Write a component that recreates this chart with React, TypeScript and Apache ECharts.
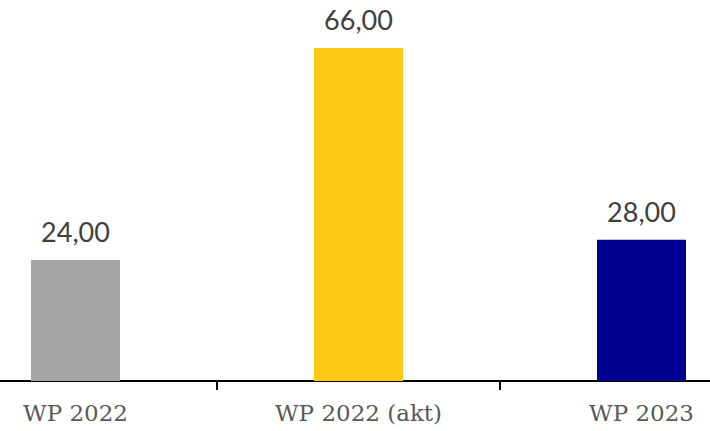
import React, { useEffect, useRef } from "react";
import * as echarts from "echarts";

const categories = ["WP 2022", "WP 2022 (akt)", "WP 2023"];
const values = [24, 66, 28];
const colors = ["#A5A5A5", "#FFC916", "#000090"];

export default function App() {
  const ref = useRef<HTMLDivElement>(null);
  useEffect(() => {
    const chart = echarts.init(ref.current!, null, { renderer: "svg" });
    chart.setOption({
      animation: false,
      grid: { left: 0, right: 0, top: 0, bottom: 50, containLabel: false },
      xAxis: {
        type: "category",
        data: categories,
        axisLine: { lineStyle: { color: "#000", width: 2 } },
        axisTick: { show: true, length: 9, lineStyle: { color: "#000", width: 2 } },
        axisLabel: {
          color: "#595959",
          fontFamily: "DejaVu Serif",
          fontSize: 23,
          margin: 20,
        },
      },
      yAxis: {
        type: "value",
        min: 0,
        max: 75.5,
        show: false,
        splitLine: { show: false },
      },
      series: [
        {
          type: "bar",
          barWidth: 89,
          data: values.map((v, i) => ({ value: v, itemStyle: { color: colors[i] } })),
          label: {
            show: true,
            position: "top",
            distance: 15,
            color: "#404040",
            fontFamily: "Lato",
            fontSize: 27,
            formatter: (p: any) => p.value.toFixed(2).replace(".", ","),
          },
        },
      ],
    });
    return () => chart.dispose();
  }, []);
  return (
    <div style={{ position: "absolute", left: 0, top: 0, width: 710, height: 431, overflow: "hidden" }}>
      <div ref={ref} style={{ position: "absolute", left: -66.5, top: 0, width: 849, height: 431 }} />
    </div>
  );
}
